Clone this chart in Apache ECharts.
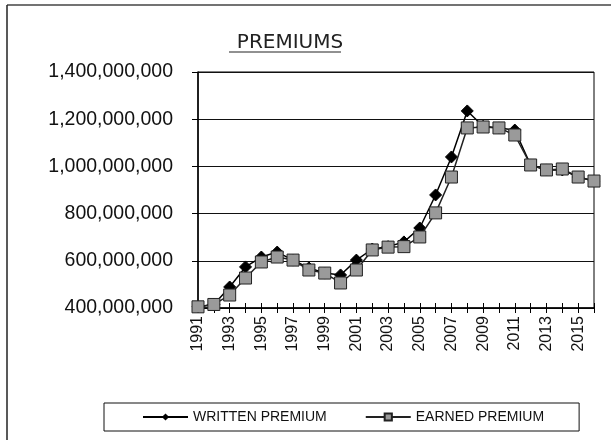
<!DOCTYPE html>
<html>
<head>
<meta charset="utf-8">
<script src="https://cdn.jsdelivr.net/npm/echarts@6/dist/echarts.min.js"></script>
<style>
  html, body { margin: 0; padding: 0; background: #fff; }
  #chart { width: 611px; height: 440px; }
</style>
</head>
<body>
<div id="chart"></div>
<script>
// years on the category axis
var years = [];
for (var y = 1991; y <= 2016; y++) years.push(String(y));

// premiums
var writtenPremium = [405e6, 415e6, 489e6, 574e6, 616e6, 637e6, 603e6, 570e6, 548e6, 540e6,
  603e6, 650e6, 660e6, 680e6, 739e6, 879e6, 1040e6, 1235e6, 1170e6, 1163e6,
  1154e6, 1006e6, 985e6, 985e6, 955e6, 938e6];
var earnedPremium = [405e6, 415e6, 455e6, 527e6, 595e6, 616e6, 603e6, 561e6, 548e6, 506e6,
  561e6, 646e6, 658e6, 660e6, 701e6, 803e6, 955e6, 1163e6, 1167e6, 1163e6,
  1133e6, 1006e6, 985e6, 989e6, 955e6, 938e6];

var yTicks = { min: 400e6, max: 1400e6, step: 200e6 };

var chart = echarts.init(document.getElementById('chart'));
chart.setOption({
  animation: false,
  backgroundColor: '#fff',
  title: {
    text: 'PREMIUMS',
    left: 285,
    top: 28,
    textAlign: 'center',
    textStyle: { fontFamily: 'DejaVu Sans', fontSize: 20, fontWeight: 'normal', color: '#222' }
  },
  graphic: [
    // scanned page frame (left + top edges)
    { type: 'line', shape: { x1: 7, y1: 5, x2: 611, y2: 5 }, style: { stroke: '#444', lineWidth: 1.5 } },
    { type: 'line', shape: { x1: 7, y1: 5, x2: 7, y2: 440 }, style: { stroke: '#222', lineWidth: 1.5 } },
    // title underline
    { type: 'line', shape: { x1: 229, y1: 52, x2: 341, y2: 52 }, style: { stroke: '#222', lineWidth: 1 } }
  ],
  grid: {
    left: 198, right: 17, top: 72, bottom: 132,
    show: true, borderColor: '#000', borderWidth: 1
  },
  legend: {
    left: 104,
    top: 403,
    padding: [7, 35, 7, 38],
    borderColor: '#111',
    borderWidth: 1,
    itemWidth: 45,
    itemHeight: 9,
    itemGap: 38,
    textStyle: { fontFamily: 'Liberation Sans', fontSize: 14, color: '#111' },
    data: ['WRITTEN PREMIUM', 'EARNED PREMIUM']
  },
  xAxis: [{
    type: 'category',
    data: years,
    boundaryGap: false,
    axisLine: { lineStyle: { color: '#000', width: 1.5 } },
    axisTick: { interval: 0, length: 5, lineStyle: { color: '#000' } },
    axisLabel: {
      interval: 1, rotate: 90, margin: 8,
      fontFamily: 'Liberation Sans', fontSize: 16, color: '#111'
    },
    splitLine: { show: false }
  }, {
    type: 'category',
    data: years,
    boundaryGap: false,
    position: 'bottom',
    axisLine: { show: false },
    axisTick: { interval: 0, inside: true, length: 5, lineStyle: { color: '#000' } },
    axisLabel: { show: false },
    splitLine: { show: false }
  }],
  yAxis: {
    type: 'value',
    min: yTicks.min,
    max: yTicks.max,
    interval: yTicks.step,
    axisLine: { show: true, lineStyle: { color: '#000', width: 1.5 } },
    axisTick: { show: true, length: 6, lineStyle: { color: '#000' } },
    axisLabel: {
      margin: 25,
      fontFamily: 'Liberation Sans', fontSize: 19.5, color: '#111',
      formatter: function (v) { return v.toLocaleString('en-US'); }
    },
    splitLine: { show: true, lineStyle: { color: '#111', width: 1 } }
  },
  series: [{
    name: 'WRITTEN PREMIUM',
    type: 'line',
    data: writtenPremium,
    symbol: 'diamond',
    symbolSize: 12,
    showAllSymbol: true,
    z: 3,
    itemStyle: { color: '#000', borderColor: '#000' },
    lineStyle: { color: '#000', width: 1.5 }
  }, {
    name: 'EARNED PREMIUM',
    type: 'line',
    data: earnedPremium,
    symbol: 'rect',
    symbolSize: 12,
    showAllSymbol: true,
    z: 4,
    itemStyle: { color: '#9a9a9a', borderColor: '#222', borderWidth: 1 },
    lineStyle: { color: '#222', width: 1.5 }
  }]
});
</script>
</body>
</html>
